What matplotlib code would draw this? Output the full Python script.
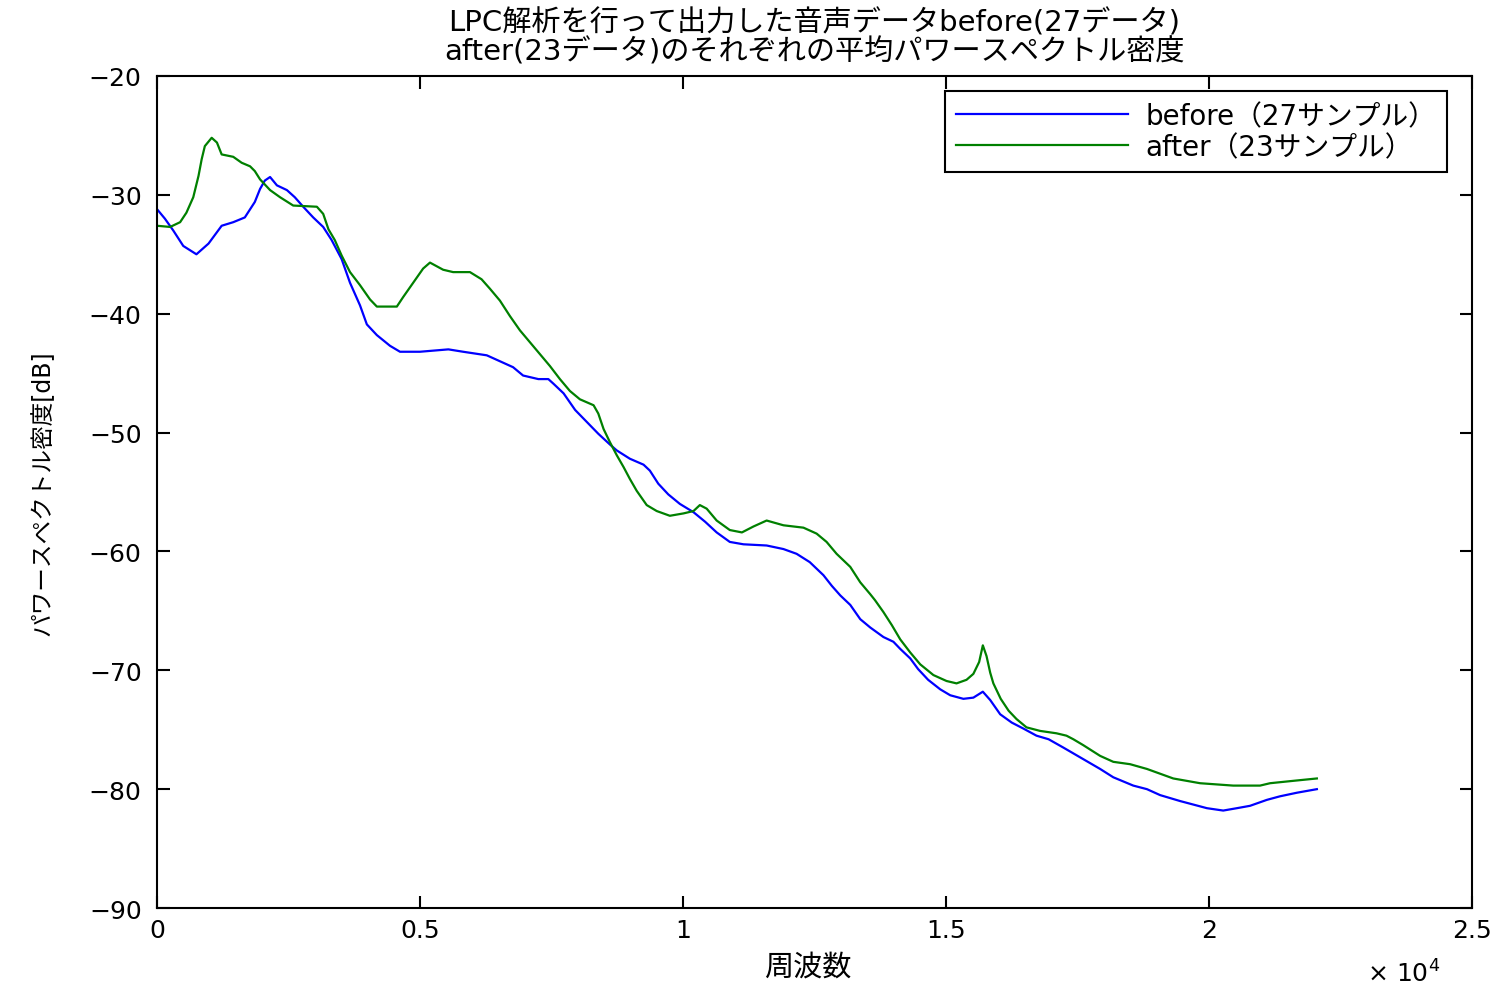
import matplotlib
matplotlib.use("Agg")
import matplotlib.pyplot as plt
from matplotlib.ticker import MultipleLocator, FuncFormatter

# Latin glyphs from DejaVu (wider), Japanese falls back to Noto CJK
plt.rcParams['font.family'] = ['DejaVu Sans', 'Noto Sans CJK JP']

# 周波数 [Hz] と平均パワースペクトル密度 [dB]
before_f = [0, 150, 310, 500, 750, 980, 1230, 1450, 1670, 1860, 1960, 2050, 2150, 2280,
            2470, 2620, 2780, 2970, 3160, 3320, 3510, 3670, 3860, 3990, 4180, 4430, 4620,
            5000, 5540, 5820, 6270, 6520, 6770, 6960, 7250, 7440, 7540, 7730, 7950, 8170,
            8390, 8610, 8740, 8990, 9250, 9370, 9530, 9720, 9940, 10200, 10420, 10640,
            10890, 11150, 11590, 11910, 12160, 12410, 12670, 12830, 12990, 13180, 13370,
            13560, 13810, 14000, 14130, 14320, 14470, 14660, 14890, 15080, 15330, 15520,
            15700, 15840, 16030, 16250, 16470, 16720, 16950, 17230, 17930, 18180, 18560,
            18820, 19070, 19450, 19960, 20270, 20530, 20780, 21100, 21350, 21670, 22050]
before_db = [-31.2, -32.0, -33.0, -34.3, -35.0, -34.1, -32.6, -32.3, -31.9, -30.6, -29.5,
             -28.8, -28.5, -29.2, -29.6, -30.2, -31.0, -31.9, -32.7, -33.8, -35.4, -37.4,
             -39.3, -40.9, -41.8, -42.7, -43.2, -43.2, -43.0, -43.2, -43.5, -44.0, -44.5,
             -45.2, -45.5, -45.5, -45.9, -46.7, -48.1, -49.1, -50.1, -51.0, -51.5, -52.2,
             -52.7, -53.2, -54.3, -55.2, -56.0, -56.7, -57.5, -58.4, -59.2, -59.4, -59.5,
             -59.8, -60.2, -60.9, -62.0, -62.9, -63.7, -64.5, -65.7, -66.4, -67.2, -67.6,
             -68.2, -69.0, -69.9, -70.8, -71.6, -72.1, -72.4, -72.3, -71.8, -72.5, -73.7,
             -74.4, -74.9, -75.5, -75.8, -76.5, -78.3, -79.0, -79.7, -80.0, -80.5, -81.0,
             -81.6, -81.8, -81.6, -81.4, -80.9, -80.6, -80.3, -80.0]

after_f = [0, 250, 440, 560, 690, 790, 850, 910, 1040, 1140, 1230, 1450, 1610, 1770, 1860,
           1960, 2150, 2340, 2590, 3040, 3160, 3260, 3380, 3510, 3670, 3860, 4050, 4180,
           4560, 4680, 4870, 5060, 5190, 5440, 5630, 5950, 6170, 6330, 6520, 6710, 6900,
           7090, 7280, 7470, 7660, 7850, 8040, 8300, 8390, 8490, 8610, 8740, 8870, 8990,
           9120, 9310, 9500, 9750, 10010, 10200, 10320, 10450, 10640, 10890, 11120, 11340,
           11590, 11910, 12290, 12540, 12730, 12920, 13180, 13370, 13560, 13650, 13810,
           13970, 14130, 14320, 14510, 14760, 15010, 15200, 15390, 15520, 15630, 15700,
           15770, 15840, 15900, 16040, 16190, 16340, 16530, 16790, 17100, 17290, 17420,
           17610, 17930, 18180, 18500, 18820, 19070, 19320, 19830, 20460, 20970, 21160,
           21600, 22050]
after_db = [-32.6, -32.7, -32.3, -31.5, -30.2, -28.4, -27.0, -25.9, -25.2, -25.6, -26.6,
            -26.8, -27.3, -27.6, -28.0, -28.7, -29.6, -30.2, -30.9, -31.0, -31.6, -32.9,
            -33.8, -35.1, -36.5, -37.6, -38.8, -39.4, -39.4, -38.6, -37.4, -36.2, -35.7,
            -36.3, -36.5, -36.5, -37.1, -37.9, -38.9, -40.2, -41.4, -42.4, -43.4, -44.4,
            -45.5, -46.5, -47.2, -47.7, -48.4, -49.7, -50.8, -51.9, -52.9, -53.9, -54.9,
            -56.1, -56.6, -57.0, -56.8, -56.6, -56.1, -56.4, -57.4, -58.2, -58.4, -57.9,
            -57.4, -57.8, -58.0, -58.5, -59.2, -60.2, -61.3, -62.6, -63.6, -64.1, -65.1,
            -66.2, -67.4, -68.5, -69.5, -70.4, -70.9, -71.1, -70.8, -70.3, -69.3, -67.9,
            -68.8, -70.2, -71.1, -72.4, -73.4, -74.1, -74.8, -75.1, -75.3, -75.5, -75.8,
            -76.3, -77.2, -77.7, -77.9, -78.3, -78.7, -79.1, -79.5, -79.7, -79.7, -79.5,
            -79.3, -79.1]

labels = ["before（27サンプル）", "after（23サンプル）"]
title = "LPC解析を行って出力した音声データbefore(27データ)\nafter(23データ)のそれぞれの平均パワースペクトル密度"

fig = plt.figure(figsize=(15.05, 9.87), dpi=100)
ax = fig.add_axes([0.1043, 0.079, 0.8738, 0.843])

ax.plot(before_f, before_db, color=(0, 0, 1), lw=1.6, label=labels[0])
ax.plot(after_f, after_db, color=(0, 0.5, 0), lw=1.6, label=labels[1])

ax.set_xlim(0, 25000)
ax.set_ylim(-90, -20)
ax.xaxis.set_major_locator(MultipleLocator(5000))
ax.yaxis.set_major_locator(MultipleLocator(10))
ax.xaxis.set_major_formatter(FuncFormatter(lambda v, p: "%g" % (v / 1e4)))

for s in ax.spines.values():
    s.set_linewidth(1.5)
ax.tick_params(direction='in', top=True, right=True, length=9, width=1.5, labelsize=18)
ax.tick_params(axis='y', pad=11)
ax.tick_params(axis='x', pad=7)

ax.text(0.976, -0.088, r"$\times\ 10^{4}$", transform=ax.transAxes, ha='right',
        va='baseline', fontsize=18)

ax.set_xlabel("周波数", fontsize=21)
ax.xaxis.set_label_coords(0.495, -0.053)
ax.set_ylabel("パワースペクトル密度[dB]", fontsize=17)
ax.yaxis.set_label_coords(-0.078, 0.5)
ax.set_title(title, fontsize=21, linespacing=1.0, pad=12)

leg = ax.legend(loc='upper right', bbox_to_anchor=(0.981, 0.982), borderaxespad=0,
                fontsize=20, handlelength=6.2, frameon=True, fancybox=False, framealpha=1,
                edgecolor='black', borderpad=0.4, labelspacing=0.1, handletextpad=0.6)
leg.get_frame().set_linewidth(1.5)

fig.savefig("out.png", dpi=100)
